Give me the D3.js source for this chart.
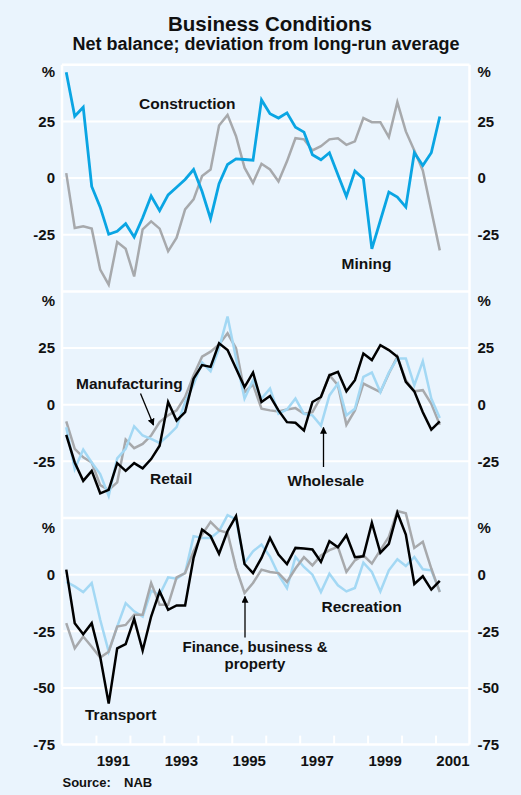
<!DOCTYPE html>
<html><head><meta charset="utf-8">
<script src="https://cdn.jsdelivr.net/npm/d3@7"></script>
<style>
html,body{margin:0;padding:0;background:#EAF4FD;}
text{font-family:Arial,"Liberation Sans",sans-serif;font-weight:bold;fill:#111;}
</style></head>
<body>
<svg id="chart" width="521" height="795"></svg>
<script>
// Quarterly data, Q1 1990 – Q1 2001
const startYear = 1990;
const construction = [46.7,27.3,31.3,-3.7,-12.8,-24.8,-23.5,-20.1,-26,-17.5,-7.9,-14.4,-7.4,-4,-0.6,3.8,-5.9,-17.9,-2.5,6,8.5,8.2,7.9,34.5,28.4,26.5,28.8,22.5,20.3,10.3,8.1,11.2,1.5,-8.1,3.1,-0.3,-31.2,-18.7,-6.2,-8.4,-12.8,11.2,5.6,11.2,27.2];
const mining = [2.2,-22,-21.3,-22.3,-40.4,-47,-28.2,-31.2,-43.4,-22.6,-19.1,-22.3,-32.3,-26.3,-13.8,-9.4,0.9,3.8,23.2,27.9,18.5,4.6,-2.1,6.3,3.8,-1.5,7.4,17.6,17.1,12.2,14.1,17.1,17.6,14.7,16.2,26.5,24.7,24.7,18.1,33.5,20.6,12.2,3.4,-14.3,-31.9];
const retail = [-13.3,-25.5,-33.6,-29.2,-39.1,-37.6,-25.8,-29.2,-25.8,-28.1,-24,-18.1,1.2,-7,-3.3,11.5,17.5,16.7,27.1,24.1,16,7.8,14.2,1.2,3.8,-2.5,-7.7,-8,-11.4,1.2,3.4,13,14.5,5.9,10.8,22.6,19.7,26.3,24.1,21.2,10.1,5.9,-3.3,-11,-7.4];
const manufacturing = [-7.4,-19.5,-23.2,-25.5,-35.5,-37.6,-34.3,-15.4,-19.2,-17.3,-13.6,-7.7,-4.7,-2.5,3.4,13,21.2,23.4,26.6,31.5,24.9,5.6,8.9,-1.8,-2.5,-3,-2.1,-1.5,-4,-3.3,3.4,13,8.6,-8.9,-2.5,9.3,7.4,5.6,13.8,21.2,10.8,5.9,6.4,0.4,-8.9];
const wholesale = [-9.9,-28.4,-19.8,-25.5,-30.6,-40.3,-23.7,-19.5,-9.5,-13.6,-15.1,-16.9,-13.6,-9.9,1.2,8.9,18.6,14.8,24.9,38.9,20.4,2.7,10.8,2.7,7.1,-4,-2.1,2.7,-4,-4.7,-9.2,4.1,9.3,-4.7,-1.8,12.3,14.2,5.6,14.2,20.4,20.4,8.6,19.2,2.7,-5.9];
const transport = [2.2,-21.4,-26.3,-21.4,-36.2,-56.9,-32.5,-30.7,-19.5,-33.5,-18.5,-7.4,-15.5,-13.6,-13.6,7.4,19.9,17,9.2,19.2,25.8,4.7,0.7,7.4,16.2,8.9,4.7,11.8,11.5,11.1,5.6,14.8,12.1,17.4,7.7,8.1,22.9,9.6,13.6,27.3,17.7,-4.1,-0.7,-6.6,-2.7];
const finance = [-21.4,-32.5,-27.3,-31.8,-36.6,-34,-22.9,-22.2,-17.7,-17.7,-3.7,-13.3,-13.3,-1.2,0.7,10.3,17.7,23.3,19.5,18.5,3,-8.1,-3.7,2.2,1.2,0.7,-3.2,2.7,7.7,4.1,8.5,10.8,12.3,1.2,6.3,8.5,4.9,10.8,16.7,28.1,27.1,11.8,14.5,2.7,-7.7];
const recreation = [-3.2,-5.2,-7.7,-3.7,-19.9,-34,-22.9,-12.6,-16.2,-18.5,-7.1,-8.9,-1.2,-1.8,0.7,17,16.2,16.2,19.2,26.3,24.4,5.2,10.3,13.3,8,0,-6,7.8,3.4,0,-7.7,0.4,-4.7,-7.4,-5.9,5.3,1.2,-7.4,1.9,6.8,3.8,7.8,2.4,1.9,-7.4];

const yearTicks = [1991,1992,1993,1994,1995,1996,1997,1998,1999,2000,2001];
const yearLabels = ["1991","1993","1995","1997","1999","2001"];

const panelDomains = [[-50,50],[-50,50],[-75,25]];
const panelLeftTicks = [[25,0,-25],[25,0,-25],[0,-25,-50,-75]];
const panelGrid = [[25,0,-25],[25,0,-25],[0,-25,-50]];

const C_BLUE = "#0AA5E3", C_GREY = "#A7A9AC", C_LBLUE = "#A3D8F4", C_BLACK = "#000";
const panelSeries = [
  [{v:mining,c:C_GREY},{v:construction,c:C_BLUE}],
  [{v:manufacturing,c:C_GREY},{v:wholesale,c:C_LBLUE},{v:retail,c:C_BLACK}],
  [{v:recreation,c:C_LBLUE},{v:finance,c:C_GREY},{v:transport,c:C_BLACK}]
];

const svg = d3.select("#chart");
svg.append("rect").attr("width",521).attr("height",795).attr("fill","#EAF4FD");

const L = 62, R = 469.5, T0 = 64.8, PH = 226.6;
const x = d3.scaleLinear().domain([1990,2002]).range([L,R]);
const qx = i => x(startYear + 0.125 + 0.25*i);
const fmt = d => String(d);

svg.append("text").attr("x",270).attr("y",31).attr("text-anchor","middle").style("font-size","20.5px").text("Business Conditions");
svg.append("text").attr("x",266).attr("y",49.5).attr("text-anchor","middle").style("font-size","18px").text("Net balance; deviation from long-run average");

const ys = [];
panelDomains.forEach((dom,p)=>{
  const top = T0 + p*PH, bot = top + PH;
  const y = d3.scaleLinear().domain(dom).range([bot,top]);
  ys.push(y);
  const g = svg.append("g");
  g.selectAll("line.grid").data(panelGrid[p]).join("line")
    .attr("x1",L).attr("x2",R).attr("y1",d=>y(d)).attr("y2",d=>y(d))
    .attr("stroke","#fff").attr("stroke-width",2);
  const la = d3.axisLeft(y).tickValues(panelLeftTicks[p]).tickSize(0).tickPadding(7).tickFormat(fmt);
  const lg = svg.append("g").attr("transform",`translate(${L},0)`).call(la);
  lg.select(".domain").remove();
  lg.selectAll("text").style("font-size","15px").attr("font-family",null).attr("fill","#111");
  const ra = d3.axisRight(y).tickValues(panelLeftTicks[p]).tickSize(0).tickPadding(8).tickFormat(fmt);
  const rg = svg.append("g").attr("transform",`translate(${R},0)`).call(ra);
  rg.select(".domain").remove();
  rg.selectAll("text").style("font-size","15px").attr("font-family",null).attr("fill","#111");
  const pcy = top + (p===0 ? 6.5 : 9.5);
  svg.append("text").attr("x",55).attr("y",pcy).attr("dy","0.35em").attr("text-anchor","end").style("font-size","15px").text("%");
  svg.append("text").attr("x",477.5).attr("y",pcy).attr("dy","0.35em").style("font-size","15px").text("%");
});

const frameY = [T0, T0+PH, T0+2*PH, T0+3*PH];
svg.selectAll("line.frame").data(frameY).join("line")
  .attr("x1",L).attr("x2",R).attr("y1",d=>d).attr("y2",d=>d).attr("stroke","#fff").attr("stroke-width",2.5);
[L,R].forEach(xx=>svg.append("line").attr("x1",xx).attr("x2",xx).attr("y1",T0).attr("y2",T0+3*PH).attr("stroke","#fff").attr("stroke-width",2.5));

const xb = T0+3*PH;
const xa = d3.axisBottom(x).tickValues(yearTicks).tickSize(-9).tickFormat("");
const xg = svg.append("g").attr("transform",`translate(0,${xb})`).call(xa);
xg.select(".domain").remove();
xg.selectAll("line").attr("stroke","#fff").attr("stroke-width",2);
const xl = d3.axisBottom(x).tickValues(yearLabels.map(s=>+s+0.5)).tickSize(0).tickPadding(11).tickFormat(d=>String(Math.floor(d)));
const xlg = svg.append("g").attr("transform",`translate(0,${xb})`).call(xl);
xlg.select(".domain").remove();
xlg.selectAll("text").style("font-size","15px").attr("font-family",null).attr("fill","#111");

panelSeries.forEach((ser,p)=>{
  const y = ys[p];
  ser.forEach(s=>{
    const line = d3.line().x((d,i)=>qx(i)).y(d=>y(d));
    svg.append("path").datum(s.v).attr("d",line).attr("fill","none")
      .attr("stroke",s.c).attr("stroke-width",s.c===C_BLUE?2.8:2.5).attr("stroke-linejoin","miter");
  });
});

function label(tx,xx,yy,anchor,fs){svg.append("text").attr("x",xx).attr("y",yy).attr("text-anchor",anchor||"start").style("font-size",(fs||15.5)+"px").text(tx);}
label("Construction",139,108.5);
label("Mining",341.5,268.5);
label("Manufacturing",76,389);
label("Retail",150,483.5);
label("Wholesale",287.5,486);
label("Recreation",321.5,611.5);
label("Finance, business &",255,651.5,"middle",15);
label("property",255,668.5,"middle",15);
label("Transport",85,720);

svg.append("defs").append("marker").attr("id","ah").attr("viewBox","0 0 10 10").attr("refX",9).attr("refY",5)
  .attr("markerWidth",7).attr("markerHeight",7).attr("markerUnits","userSpaceOnUse").attr("orient","auto")
  .append("path").attr("d","M0,0L10,5L0,10z").attr("fill","#000");
function arrow(x1,y1,x2,y2){svg.append("line").attr("x1",x1).attr("y1",y1).attr("x2",x2).attr("y2",y2)
  .attr("stroke","#000").attr("stroke-width",1.3).attr("marker-end","url(#ah)");}
arrow(140.5,393.5,153.5,425);
arrow(323.5,467,323.5,427.5);
arrow(245,637.5,245,596.5);

svg.append("text").attr("x",62.5).attr("y",787).style("font-size","13px").text("Source:");
svg.append("text").attr("x",124).attr("y",787).style("font-size","13px").text("NAB");
</script>
</body></html>
